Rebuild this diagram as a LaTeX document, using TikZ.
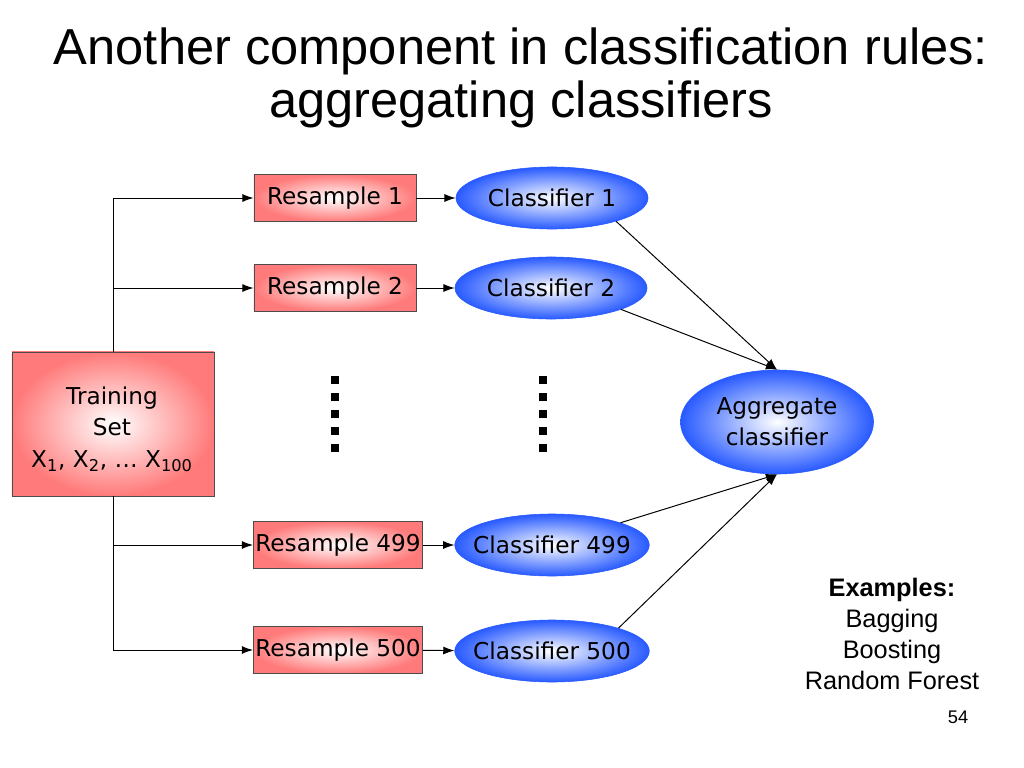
\documentclass[tikz,border=0pt]{standalone}
\usepackage{fontspec}
\setmainfont{Liberation Sans}
\newfontfamily\boxfont{DejaVu Sans}
\usetikzlibrary{positioning,arrows.meta,calc,shapes.geometric}

\definecolor{boxred}{RGB}{255,122,122}
\definecolor{ballblue}{RGB}{40,90,255}

\tikzset{
  sample/.style={draw=black!70, line width=0.6pt, shade, inner color=white, outer color=boxred,
    minimum width=4.05cm, minimum height=1.175cm, inner sep=0pt},
  learner/.style={ellipse, draw=ballblue, shade, inner color=white, outer color=ballblue,
    minimum width=4.8cm, minimum height=1.55cm, inner ysep=0pt, inner xsep=-0.25cm},
  link/.style={line width=0.7pt, -{Latex[length=2.8mm,width=2mm]}}
}

\begin{document}
\begin{tikzpicture}[x=0.025cm, y=-0.025cm, font=\boxfont\fontsize{16.5}{22}\selectfont]
  \useasboundingbox (0,0) rectangle (1024,768);
  % title
  \node[font=\fontsize{36}{38}\selectfont, anchor=base] (title1) at (521,65) {Another component in classification rules:};
  \node[font=\fontsize{36}{38}\selectfont, anchor=base] (title2) at (521,118) {aggregating classifiers};

  \node[sample, minimum width=5.05cm, minimum height=3.6cm, align=center] (train) at (113,424) {};
  \node[align=center, font=\boxfont\fontsize{16.5}{22.5}\selectfont] (traintext) at (112,429)
    {Training\\Set\\X\textsubscript{1}, X\textsubscript{2}, … X\textsubscript{100}};

  \node[sample] (res1) at (335,198) {Resample 1};
  \node[sample] (res2) at (335,288) {Resample 2};
  \node[sample, minimum width=4.225cm] (res499) at (338,545) {Resample 499};
  \node[sample, minimum width=4.225cm] (res500) at (338,650) {Resample 500};

  \node[learner] (cl1) at (552,198) {Classifier 1};
  \node[learner] (cl2) at (551,288) {Classifier 2};
  \node[learner] (cl499) at (552,545) {Classifier 499};
  \node[learner] (cl500) at (552,651) {Classifier 500};

  \node[learner, minimum width=4.825cm, minimum height=2.6cm, align=center] (agg) at (777,422)
    {Aggregate\\classifier};

  % dots
  \foreach \px in {335,543}
    \foreach \py in {380,397,414,431,448}
      \fill (\px-4,\py-4) rectangle (\px+4,\py+4);

  \draw[link] (train.north) |- (res1.west);
  \draw[link] (train.north) |- (res2.west);
  \draw[link] (train.south) |- (res499.west);
  \draw[link] (train.south) |- (res500.west);

  \draw[link] (res1) -- (cl1);
  \draw[link] (res2) -- (cl2);
  \draw[link] (res499) -- (cl499);
  \draw[link] (res500) -- (cl500);

  \draw[link] (cl1.-20) -- (agg.north);
  \draw[link] (cl2.-17) -- (agg.north);
  \draw[link] (cl499.18) -- (agg.south);
  \draw[link] (cl500.19) -- (agg.south);

  \node[font=\fontsize{18}{22}\selectfont, align=center, anchor=north, inner sep=0pt] (examples) at (892,578)
    {\textbf{Examples:}\\Bagging\\Boosting\\Random Forest};
  \node[font=\fontsize{13}{15}\selectfont] (page) at (958,717) {54};
\end{tikzpicture}
\end{document}
